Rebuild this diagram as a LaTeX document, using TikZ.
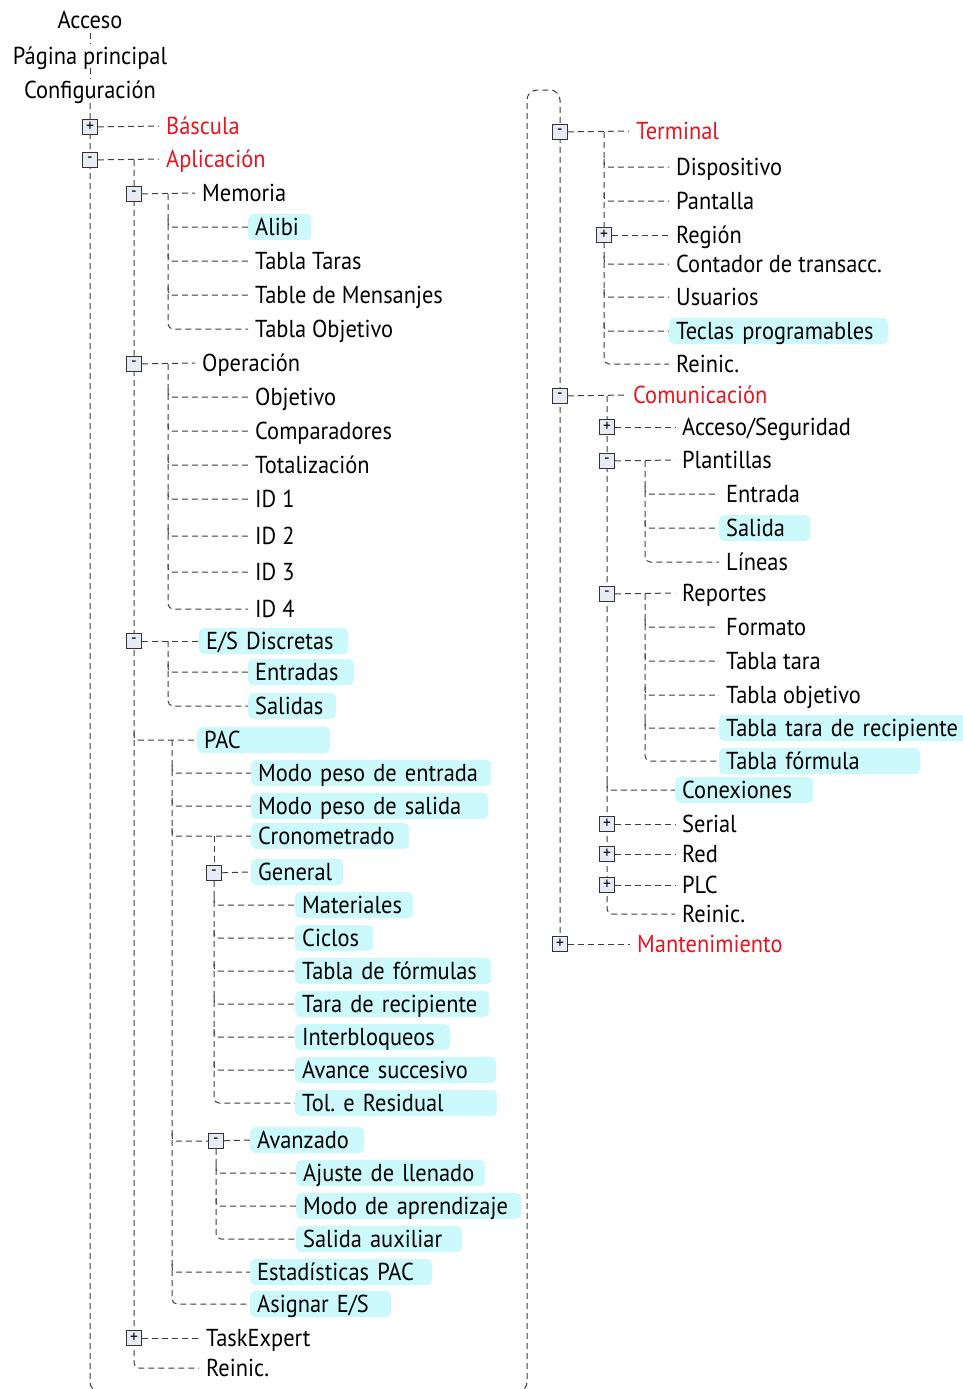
\documentclass[tikz,border=0pt]{standalone}
\usepackage{fontspec}
\setmainfont{PT Sans}[FakeStretch=0.915]
\usetikzlibrary{calc}
\definecolor{hdr}{RGB}{230,20,30}
\definecolor{hlc}{RGB}{204,250,252}
\definecolor{boxc}{RGB}{230,235,245}
\definecolor{lnc}{RGB}{60,60,60}
\pgfdeclarelayer{bg}
\pgfsetlayers{bg,main}
\newcommand\lf{\fontsize{24.5}{27}\selectfont\frenchspacing}
\newcommand\hook[2]{\draw[conn,rounded corners=4pt] ($(#1 |- #2.west)+(0,-8)$) |- (#2.west);}
\tikzset{
  lbl/.style={anchor=west, inner xsep=7pt, inner ysep=0pt, text height=20pt, text depth=4pt, minimum height=26pt, font=\lf},
  hd/.style={lbl, text=hdr},
  hl/.style={lbl, fill=hlc, rounded corners=5pt, text width=#1pt, align=left},
  top/.style={anchor=center, inner sep=0pt, text height=20pt, text depth=4pt, font=\lf},
  bx/.style={draw=black!80, fill=boxc, minimum size=15pt, inner sep=0pt, line width=0.9pt, font=\fontsize{17}{17}\selectfont},
  conn/.style={draw=lnc, dash pattern=on 6pt off 4pt, line width=1pt},
}
\begin{document}
\begin{tikzpicture}[x=1pt,y=-1pt]
\useasboundingbox (0,0) rectangle (962,1389);
% ---------- left column ----------
\node[top] (acc) at (90,21) {Acceso};
\node[top] (pag) at (90,56) {Página principal};
\node[top] (conf) at (90,91) {Configuración};
\node[bx] (bascB) at (90,127) {+};
\node[hd] (basc) at (159,126) {Báscula};
\node[bx] (aplB) at (90,160) {-};
\node[hd] (apl) at (159,159) {Aplicación};
\coordinate (aplL) at (134,160);
\node[bx] (memB) at (134,194) {-};
\node[lbl] (mem) at (195,193) {Memoria};
\coordinate (memL) at (168,194);
\node[hl=49] (alibi) at (248,227) {Alibi};
\node[lbl] (ttaras) at (248,261) {Tabla Taras};
\node[lbl] (tmens) at (248,295) {Table de Mensanjes};
\node[lbl] (tobj) at (248,329) {Tabla Objetivo};
\node[bx] (opB) at (134,364) {-};
\node[lbl] (op) at (195,363) {Operación};
\coordinate (opL) at (168,364);
\node[lbl] (objetivo) at (248,397) {Objetivo};
\node[lbl] (compar) at (248,431) {Comparadores};
\node[lbl] (totaliz) at (248,465) {Totalización};
\node[lbl] (id1) at (248,499) {ID 1};
\node[lbl] (id2) at (248,536) {ID 2};
\node[lbl] (id3) at (248,572) {ID 3};
\node[lbl] (id4) at (248,609) {ID 4};
\node[bx] (esdB) at (134,641) {-};
\node[hl=135] (esd) at (199,641) {E/S Discretas};
\coordinate (esdL) at (168,641);
\node[hl=92] (entradas) at (248,672) {Entradas};
\node[hl=74] (salidas) at (248,706) {Salidas};
\node[hl=119] (pac) at (197,740) {PAC};
\coordinate (pacL) at (172,740);
\node[hl=226] (mpe) at (251,773) {Modo peso de entrada};
\node[hl=223] (mps) at (251,806) {Modo peso de salida};
\node[hl=144] (crono) at (251,836) {Cronometrado};
\coordinate (cronoL) at (214,836);
\node[bx] (genB) at (214,873) {-};
\node[hl=78] (general) at (251,872) {General};
\node[hl=104] (materiales) at (295,905) {Materiales};
\node[hl=64] (ciclos) at (295,938) {Ciclos};
\node[hl=182] (tablaf) at (295,971) {Tabla de fórmulas};
\node[hl=180] (tarar) at (295,1004) {Tara de recipiente};
\node[hl=141] (interb) at (295,1037) {Interbloqueos};
\node[hl=187] (avance) at (295,1070) {Avance succesivo};
\node[hl=188] (tol) at (295,1103) {Tol. e Residual};
\node[bx] (avzB) at (216,1141) {-};
\node[hl=100] (avanzado) at (250,1140) {Avanzado};
\node[hl=175] (ajuste) at (296,1173) {Ajuste de llenado};
\node[hl=211] (modoap) at (296,1206) {Modo de aprendizaje};
\node[hl=152] (salaux) at (296,1239) {Salida auxiliar};
\node[hl=168] (estad) at (250,1272) {Estadísticas PAC};
\node[hl=127] (asignar) at (250,1304) {Asignar E/S};
\node[bx] (taskB) at (134,1338) {+};
\node[lbl] (task) at (199,1338) {TaskExpert};
\node[lbl] (reinA) at (199,1368) {Reinic.};
% ---------- right column ----------
\node[bx] (termB) at (560,132) {-};
\node[hd] (term) at (629,131) {Terminal};
\coordinate (termL) at (604,132);
\node[lbl] (disp) at (669,167) {Dispositivo};
\node[lbl] (pant) at (669,201) {Pantalla};
\node[bx] (regB) at (604,235) {+};
\node[lbl] (reg) at (669,235) {Región};
\node[lbl] (cont) at (669,264) {Contador de transacc.};
\node[lbl] (usu) at (669,297) {Usuarios};
\node[hl=205] (teclas) at (669,331) {Teclas programables};
\node[lbl] (reinT) at (669,364) {Reinic.};
\node[bx] (comB) at (560,396) {-};
\node[hd] (com) at (626,395) {Comunicación};
\coordinate (comL) at (607,396);
\node[bx] (accB) at (607,427) {+};
\node[lbl] (accs) at (675,427) {Acceso/Seguridad};
\node[bx] (plaB) at (607,461) {-};
\node[lbl] (pla) at (675,460) {Plantillas};
\coordinate (plaL) at (645,461);
\node[lbl] (entrada) at (719,494) {Entrada};
\node[hl=77] (salida) at (719,528) {Salida};
\node[lbl] (lineas) at (719,562) {Líneas};
\node[bx] (repB) at (607,594) {-};
\node[lbl] (rep) at (675,593) {Reportes};
\coordinate (repL) at (645,594);
\node[lbl] (formato) at (719,627) {Formato};
\node[lbl] (ttara) at (719,661) {Tabla tara};
\node[lbl] (tobjv) at (719,695) {Tabla objetivo};
\node[hl=245] (ttr) at (719,728) {Tabla tara de recipiente};
\node[hl=187] (tform) at (719,761) {Tabla fórmula};
\node[hl=124] (conex) at (675,790) {Conexiones};
\node[bx] (serB) at (607,824) {+};
\node[lbl] (serial) at (675,824) {Serial};
\node[bx] (redB) at (607,854) {+};
\node[lbl] (red) at (675,854) {Red};
\node[bx] (plcB) at (607,885) {+};
\node[lbl] (plc) at (675,885) {PLC};
\node[lbl] (reinC) at (675,914) {Reinic.};
\node[bx] (manB) at (560,944) {+};
\node[hd] (man) at (630,944) {Mantenimiento};
\coordinate (bl) at (90,1392);
\coordinate (br) at (527,1392);
\coordinate (tl) at (527,90);
\coordinate (tr) at (560,90);
% ---------- connectors ----------
\begin{pgfonlayer}{bg}
\draw[conn] (acc) -- (pag);
\draw[conn] (pag) -- (conf);
\begin{scope}
\clip (0,0) rectangle (962,1389);
\draw[conn,rounded corners=10pt] (conf.south) -- (bl) -- (br) -- (tl) -- (tr) -- (manB.north);
\end{scope}
\draw[conn] (bascB) -- (basc.west);
\draw[conn] (aplB) -- (apl.west);
\draw[conn,rounded corners=5pt] (aplL) |- (reinA.west);
\draw[conn] (memB) -- (mem.west);
\draw[conn,rounded corners=5pt] (memL) |- (tobj.west);
\hook{memL}{alibi}\hook{memL}{ttaras}\hook{memL}{tmens}
\draw[conn] (opB) -- (op.west);
\draw[conn,rounded corners=5pt] (opL) |- (id4.west);
\hook{opL}{objetivo}\hook{opL}{compar}\hook{opL}{totaliz}\hook{opL}{id1}\hook{opL}{id2}\hook{opL}{id3}
\draw[conn] (esdB) -- (esd.west);
\draw[conn,rounded corners=5pt] (esdL) |- (salidas.west);
\hook{esdL}{entradas}
\hook{aplL}{pac}
\draw[conn,rounded corners=5pt] (pacL) |- (asignar.west);
\hook{pacL}{mpe}\hook{pacL}{mps}\hook{pacL}{crono}\hook{pacL}{estad}
\draw[conn] (cronoL) -- (genB);
\draw[conn] (genB) -- (general.west);
\draw[conn,rounded corners=5pt] (genB) |- (tol.west);
\hook{genB}{materiales}\hook{genB}{ciclos}\hook{genB}{tablaf}\hook{genB}{tarar}\hook{genB}{interb}\hook{genB}{avance}
\draw[conn,rounded corners=4pt] ($(pacL |- avzB)+(0,-8)$) |- (avzB);
\draw[conn] (avzB) -- (avanzado.west);
\draw[conn,rounded corners=5pt] (avzB) |- (salaux.west);
\hook{avzB}{ajuste}\hook{avzB}{modoap}
\draw[conn] (taskB) -- (task.west);
% right
\draw[conn] (termB) -- (term.west);
\draw[conn,rounded corners=5pt] (termL) |- (reinT.west);
\hook{termL}{disp}\hook{termL}{pant}\hook{termL}{cont}\hook{termL}{usu}\hook{termL}{teclas}
\draw[conn] (regB) -- (reg.west);
\draw[conn] (comB) -- (com.west);
\draw[conn,rounded corners=5pt] (comL) |- (reinC.west);
\draw[conn] (accB) -- (accs.west);
\draw[conn] (plaB) -- (pla.west);
\draw[conn,rounded corners=5pt] (plaL) |- (lineas.west);
\hook{plaL}{entrada}\hook{plaL}{salida}
\draw[conn] (repB) -- (rep.west);
\draw[conn,rounded corners=5pt] (repL) |- (tform.west);
\hook{repL}{formato}\hook{repL}{ttara}\hook{repL}{tobjv}\hook{repL}{ttr}
\hook{comL}{conex}
\draw[conn] (serB) -- (serial.west);
\draw[conn] (redB) -- (red.west);
\draw[conn] (plcB) -- (plc.west);
\draw[conn] (manB) -- (man.west);
\end{pgfonlayer}
\end{tikzpicture}
\end{document}
